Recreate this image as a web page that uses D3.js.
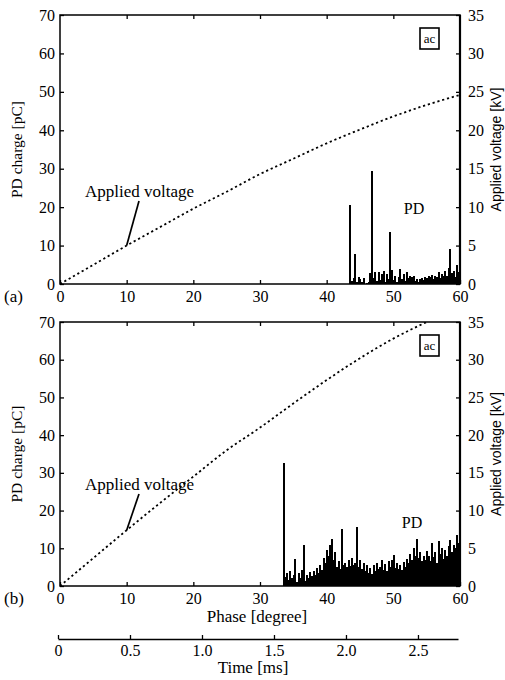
<!DOCTYPE html>
<html>
<head>
<meta charset="utf-8">
<script src="https://cdn.jsdelivr.net/npm/d3@7"></script>
<style>
  body { margin: 0; background: #fff; }
  svg text { font-family: "Liberation Serif", Tinos, "DejaVu Serif", "Noto Serif", serif; fill: #000; }
  .axis text { font-size: 16px; }
  .axis line { stroke: #000; stroke-width: 1.3; }
  .axis path { stroke: #000; }
</style>
</head>
<body>
<div id="chart"></div>
<script>

// tick values
var phaseTicks = [0, 10, 20, 30, 40, 50, 60];
var chargeTicks = [0, 10, 20, 30, 40, 50, 60, 70];
var voltTicks = [0, 5, 10, 15, 20, 25, 30, 35];
var timeTicks = [0, 0.5, 1.0, 1.5, 2.0, 2.5];
var timeLabels = ['0', '0.5', '1.0', '1.5', '2.0', '2.5'];

// applied voltage [kV] vs phase [degree]
var voltPhaseA = [0, 5, 10, 15, 20, 25, 30, 35, 40, 45, 50, 55, 60];
var voltA      = [0, 2.5, 5.0, 7.4, 9.8, 12.0, 14.3, 16.3, 18.3, 20.1, 21.8, 23.3, 24.6];
var voltPhaseB = [0, 5, 10, 15, 20, 25, 30, 35, 40, 45, 50, 55];
var voltB      = [0, 3.7, 7.4, 11.0, 14.5, 18.0, 21.0, 24.2, 27.3, 30.2, 32.8, 35.0];

// PD charge [pC], one bar every 0.25 degree
var pdStep = 0.25;
var pdStartA = 43.5;
var pdA = [
  20.6, 0.8, 1.5, 7.8, 0.5, 1.8, 1.2, 0.4, 1.6, 0, 0.3, 0.5, 2.8, 29.4, 1.5, 3.0,
  0.8, 3.2, 1.0, 2.6, 3.4, 0.6, 2.5, 1.2, 13.5, 3.6, 1.0, 2.2, 0.5, 1.8, 3.8, 1.2,
  2.5, 0.8, 3.0, 1.5, 2.2, 1.8, 2.0, 0.8, 1.2, 0.5, 1.4, 1.6, 1.0, 1.8, 1.5, 2.0,
  1.7, 2.4, 1.2, 2.2, 1.8, 3.0, 1.6, 2.6, 2.0, 3.4, 2.2, 4.2, 9.0, 2.8, 3.5, 1.8,
  5.0, 3.2, 2.0
];
var pdStartB = 33.5;
var pdB = [
  32.6, 2.5, 3.5, 1.5, 4.0, 2.2, 3.0, 7.2, 1.0, 3.5, 2.0, 4.2, 10.9, 1.2, 3.0, 2.2,
  3.8, 2.6, 4.0, 3.0, 4.8, 3.5, 5.5, 4.2, 7.5, 6.0, 9.5, 8.0, 11.0, 12.4, 7.0, 9.0,
  5.0, 6.5, 4.5, 15.0, 5.5, 6.0, 5.0, 6.8, 5.2, 7.5, 5.5, 6.2, 15.7, 5.0, 7.0, 4.5,
  6.0, 4.0, 5.5, 3.5, 4.8, 3.2, 5.5, 4.0, 6.2, 4.5, 5.0, 6.8, 4.2, 5.8, 4.0, 6.5,
  5.0, 7.0, 8.2, 4.8, 6.0, 4.5, 5.6, 4.2, 6.4, 5.0, 7.2, 6.0, 8.5, 7.0, 10.0, 8.0,
  12.4, 7.5, 9.0, 6.5, 8.0, 7.0, 9.2, 8.0, 6.5, 11.5, 7.8, 9.0, 6.0, 11.8, 8.5, 10.0,
  7.2, 9.5, 8.0, 10.5, 12.2, 9.0, 11.0, 10.0, 13.5, 11.5, 12.0
];

var width = 505, height = 680;
var serif = '"Liberation Serif", Tinos, "DejaVu Serif", "Noto Serif", serif';

var svg = d3.select('#chart').append('svg')
    .attr('width', width)
    .attr('height', height)
    .attr('font-family', serif);

var x = d3.scaleLinear().domain([0, 60]).range([60, 460]);

function toPoints(phases, vals) {
  return phases.map(function(p, i) { return { p: p, v: vals[i] }; });
}

// d3 axes put a sans-serif attribute on their group, take it off again
function serifAxis(s) {
  s.attr('font-family', serif).attr('font-size', 16);
  s.selectAll('text').attr('font-family', serif);
}

function drawPanel(o) {
  var yq = d3.scaleLinear().domain([0, 70]).range([o.bottom, o.top]);
  var yv = d3.scaleLinear().domain([0, 35]).range([o.bottom, o.top]);
  var g = svg.append('g');

  var clipId = 'clip-' + o.name;
  svg.append('clipPath').attr('id', clipId)
    .append('rect')
      .attr('x', x(0)).attr('y', o.top)
      .attr('width', x(60) - x(0)).attr('height', o.bottom - o.top);

  // PD bars
  var bw = x(pdStep) - x(0);
  var bars = o.pd.map(function(v, i) { return { p: o.pdStart + i * pdStep, v: v }; });
  g.append('g').attr('clip-path', 'url(#' + clipId + ')')
    .attr('shape-rendering', 'crispEdges')
    .selectAll('rect')
    .data(bars)
    .enter().append('rect')
      .attr('x', function(d) { return x(d.p) - bw / 2; })
      .attr('y', function(d) { return yq(d.v); })
      .attr('width', bw + 0.5)
      .attr('height', function(d) { return o.bottom - yq(d.v); })
      .attr('fill', '#000');

  // applied voltage, dotted
  var line = d3.line()
    .x(function(d) { return x(d.p); })
    .y(function(d) { return yv(d.v); })
    .curve(d3.curveMonotoneX);
  var pts = toPoints(o.voltPhase, o.volt);
  g.append('path')
    .datum(pts)
    .attr('clip-path', 'url(#' + clipId + ')')
    .attr('d', line)
    .attr('fill', 'none')
    .attr('stroke', '#000')
    .attr('stroke-width', 1.8)
    .attr('stroke-dasharray', '2.2,2.8');

  // axes, ticks pointing inward
  g.append('g').attr('class', 'axis')
    .attr('transform', 'translate(0,' + o.bottom + ')')
    .call(d3.axisBottom(x).tickValues(phaseTicks).tickSize(-4).tickPadding(7))
    .call(serifAxis)
    .call(function(s) { s.select('.domain').remove(); });

  g.append('g').attr('class', 'axis')
    .attr('transform', 'translate(0,' + o.top + ')')
    .call(d3.axisTop(x).tickValues([10, 20, 30, 40, 50]).tickSize(-4).tickFormat(''))
    .call(function(s) { s.select('.domain').remove(); });

  g.append('g').attr('class', 'axis')
    .attr('transform', 'translate(' + x(0) + ',0)')
    .call(d3.axisLeft(yq).tickValues(chargeTicks).tickSize(-4).tickPadding(5))
    .call(serifAxis)
    .call(function(s) { s.select('.domain').remove(); });

  g.append('g').attr('class', 'axis')
    .attr('transform', 'translate(' + x(60) + ',0)')
    .call(d3.axisRight(yv).tickValues(voltTicks).tickSize(-4).tickPadding(8))
    .call(serifAxis)
    .call(function(s) { s.select('.domain').remove(); });

  // frame
  g.append('rect')
    .attr('x', x(0)).attr('y', o.top)
    .attr('width', x(60) - x(0)).attr('height', o.bottom - o.top)
    .attr('fill', 'none').attr('stroke', '#000').attr('stroke-width', 1.5);
  g.append('line')
    .attr('x1', x(60)).attr('x2', x(60))
    .attr('y1', o.top).attr('y2', o.bottom)
    .attr('stroke', '#000').attr('stroke-width', 2.2);

  // axis titles
  g.append('text')
    .attr('transform', 'translate(22,' + (o.top + o.bottom) / 2 + ') rotate(-90)')
    .attr('text-anchor', 'middle')
    .attr('font-size', 15.5)
    .text('PD charge [pC]');

  g.append('text')
    .attr('transform', 'translate(501,' + (o.top + o.bottom) / 2 + ') rotate(-90)')
    .attr('text-anchor', 'middle')
    .style('font-family', '"Liberation Sans", Arial, sans-serif')
    .attr('font-size', 14)
    .text('Applied voltage [kV]');

  // panel letter
  g.append('text')
    .attr('x', 4).attr('y', o.bottom + 18)
    .attr('font-size', 17)
    .text(o.letter);

  // "ac" box
  g.append('rect')
    .attr('x', 420).attr('y', o.top + 13)
    .attr('width', 19).attr('height', 21)
    .attr('fill', '#fff').attr('stroke', '#000').attr('stroke-width', 1.6);
  g.append('text')
    .attr('x', 429.5).attr('y', o.top + 28)
    .attr('text-anchor', 'middle')
    .attr('font-size', 13)
    .text('ac');

  // annotations
  var v10 = pts[2];
  g.append('text')
    .attr('x', 85).attr('y', o.annY)
    .attr('font-size', 17)
    .text('Applied voltage');
  g.append('line')
    .attr('x1', 139).attr('y1', o.annY + 4)
    .attr('x2', x(v10.p)).attr('y2', yv(v10.v))
    .attr('stroke', '#000').attr('stroke-width', 1.7);

  g.append('text')
    .attr('x', o.pdX).attr('y', o.pdY)
    .attr('text-anchor', 'middle')
    .attr('font-size', 16)
    .text('PD');
}

drawPanel({
  name: 'a', letter: '(a)', top: 15, bottom: 284,
  pd: pdA, pdStart: pdStartA,
  voltPhase: voltPhaseA, volt: voltA,
  annY: 197, pdX: 414, pdY: 214
});

drawPanel({
  name: 'b', letter: '(b)', top: 322, bottom: 586,
  pd: pdB, pdStart: pdStartB,
  voltPhase: voltPhaseB, volt: voltB,
  annY: 490, pdX: 412, pdY: 528
});

svg.append('text')
  .attr('x', 257).attr('y', 622)
  .attr('text-anchor', 'middle')
  .attr('font-size', 17)
  .text('Phase [degree]');

// time axis under panel (b)
var t = d3.scaleLinear().domain([0, 2.778]).range([58, 458]);
svg.append('g').attr('class', 'axis')
  .attr('transform', 'translate(0,639)')
  .call(d3.axisBottom(t).tickValues(timeTicks).tickSize(-4).tickSizeOuter(0).tickPadding(6)
    .tickFormat(function(d, i) { return timeLabels[i]; }))
  .call(serifAxis)
  .call(function(s) { s.select('.domain').attr('stroke-width', 1.5); });

svg.append('text')
  .attr('x', 253).attr('y', 673)
  .attr('text-anchor', 'middle')
  .attr('font-size', 17)
  .text('Time [ms]');

</script>
</body>
</html>
